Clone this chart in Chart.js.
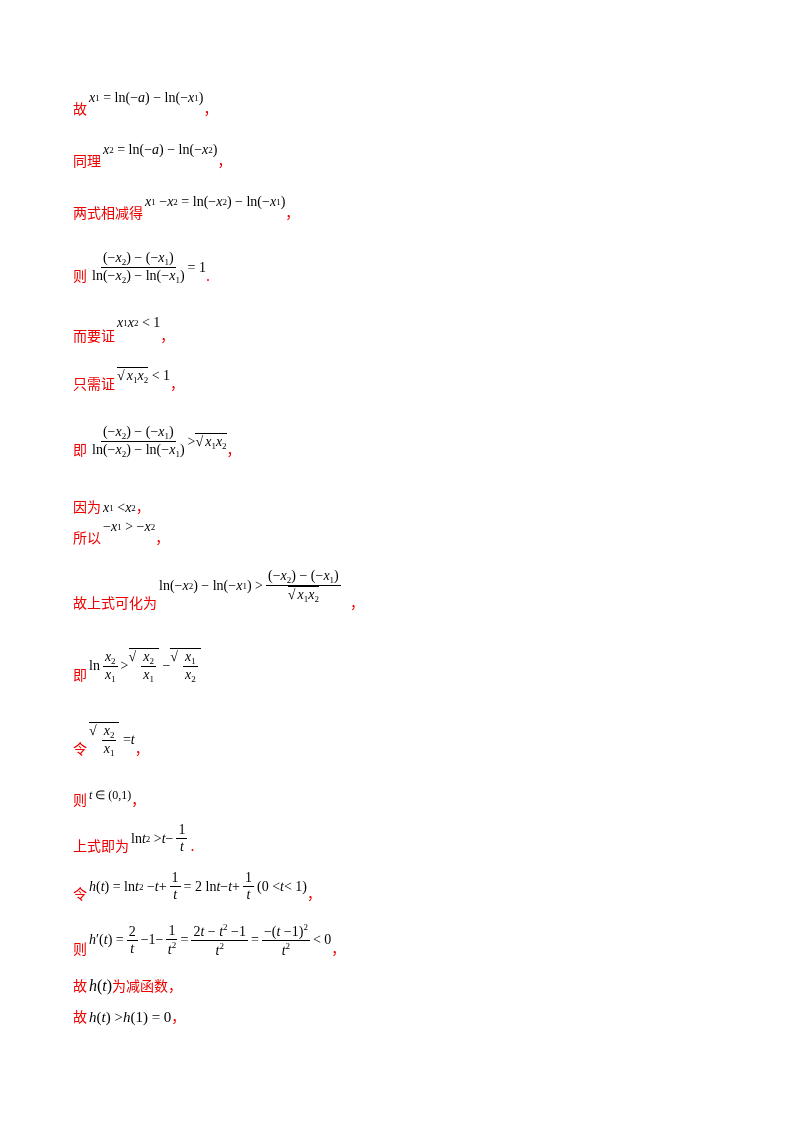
<!DOCTYPE html>
<html><head><meta charset="utf-8">
<script src="https://cdn.jsdelivr.net/npm/chart.js@4"></script>
<style>
body{margin:0;width:800px;height:1132px;background:#fff;position:relative;font-family:"Liberation Serif",serif;}
.l{position:absolute;left:73px;white-space:nowrap;display:flex;align-items:flex-end;}
.c{color:#e00;font-family:"Noto Sans CJK SC";font-size:14px;}
.m{font-size:14px;color:#000;display:inline-flex;align-items:center;margin-left:2px}
i{font-style:italic}
sub{font-size:9px;vertical-align:-3px}
.fr{display:inline-flex;flex-direction:column;align-items:center;margin:0 3px}
.fr>span:first-child{border-bottom:1px solid #000;padding:0 2px}
.sq{border-top:1px solid #000;padding-left:2px}
.sq:before{content:"√";position:relative;left:-2px}
#cv{position:absolute;left:0;top:0;width:1px;height:1px;opacity:0}
</style></head><body>
<canvas id="cv"></canvas>
<div class="l" style="top:98px"><span class="c">故</span><span class="m" style="position:relative;top:-12px"><i>x</i><sub>1</sub>&nbsp;= ln(−<i>a</i>) − ln(−<i>x</i><sub>1</sub>)</span><span class="c">，</span></div>
<div class="l" style="top:150px"><span class="c">同理</span><span class="m" style="position:relative;top:-12px"><i>x</i><sub>2</sub>&nbsp;= ln(−<i>a</i>) − ln(−<i>x</i><sub>2</sub>)</span><span class="c">，</span></div>
<div class="l" style="top:202px"><span class="c">两式相减得</span><span class="m" style="position:relative;top:-12px"><i>x</i><sub>1</sub>&nbsp;− <i>x</i><sub>2</sub>&nbsp;= ln(−<i>x</i><sub>2</sub>) − ln(−<i>x</i><sub>1</sub>)</span><span class="c">，</span></div>
<div class="l" style="top:250px"><span class="c">则</span><span class="m"><span class="fr"><span>(−<i>x</i><sub>2</sub>) − (−<i>x</i><sub>1</sub>)</span><span>ln(−<i>x</i><sub>2</sub>) − ln(−<i>x</i><sub>1</sub>)</span></span>= 1</span><span class="c">.</span></div>
<div class="l" style="top:325px"><span class="c">而要证</span><span class="m" style="position:relative;top:-14px"><i>x</i><sub>1</sub><i>x</i><sub>2</sub>&nbsp;&lt; 1</span><span class="c">，</span></div>
<div class="l" style="top:373px"><span class="c">只需证</span><span class="m" style="position:relative;top:-8px"><span class="sq"><i>x</i><sub>1</sub><i>x</i><sub>2</sub></span>&nbsp;&lt; 1</span><span class="c">，</span></div>
<div class="l" style="top:424px"><span class="c">即</span><span class="m"><span class="fr"><span>(−<i>x</i><sub>2</sub>) − (−<i>x</i><sub>1</sub>)</span><span>ln(−<i>x</i><sub>2</sub>) − ln(−<i>x</i><sub>1</sub>)</span></span>&gt; <span class="sq"><i>x</i><sub>1</sub><i>x</i><sub>2</sub></span></span><span class="c">，</span></div>
<div class="l" style="top:496px"><span class="c">因为</span><span class="m"><i>x</i><sub>1</sub>&nbsp;&lt; <i>x</i><sub>2</sub></span><span class="c">，</span></div>
<div class="l" style="top:527px"><span class="c">所以</span><span class="m" style="position:relative;top:-12px">−<i>x</i><sub>1</sub>&nbsp;&gt; −<i>x</i><sub>2</sub></span><span class="c">，</span></div>
<div class="l" style="top:576px"><span class="c">故上式可化为</span><span class="m" style="position:relative;top:-8px">ln(−<i>x</i><sub>2</sub>) − ln(−<i>x</i><sub>1</sub>) &gt;<span class="fr"><span>(−<i>x</i><sub>2</sub>) − (−<i>x</i><sub>1</sub>)</span><span class="sq"><i>x</i><sub>1</sub><i>x</i><sub>2</sub></span></span></span><span class="c">&nbsp;&nbsp;，</span></div>
<div class="l" style="top:648px"><span class="c">即</span><span class="m">ln<span class="fr"><span><i>x</i><sub>2</sub></span><span><i>x</i><sub>1</sub></span></span>&gt; <span class="sq"><span class="fr"><span><i>x</i><sub>2</sub></span><span><i>x</i><sub>1</sub></span></span></span>&nbsp;− <span class="sq"><span class="fr"><span><i>x</i><sub>1</sub></span><span><i>x</i><sub>2</sub></span></span></span></span></div>
<div class="l" style="top:722px"><span class="c">令</span><span class="m"><span class="sq"><span class="fr"><span><i>x</i><sub>2</sub></span><span><i>x</i><sub>1</sub></span></span></span>&nbsp;= <i>t</i></span><span class="c">，</span></div>
<div class="l" style="top:789px"><span class="c">则</span><span class="m" style="font-size:12px;position:relative;top:-6px"><i>t</i>&nbsp;∈ (0,1)</span><span class="c">，</span></div>
<div class="l" style="top:822px"><span class="c">上式即为</span><span class="m">ln <i>t</i><sup style="font-size:9px">2</sup>&nbsp;&gt; <i>t</i> −<span class="fr"><span>1</span><span><i>t</i></span></span></span><span class="c">.</span></div>
<div class="l" style="top:870px"><span class="c">令</span><span class="m"><i>h</i>(<i>t</i>) = ln <i>t</i><sup style="font-size:9px">2</sup>&nbsp;− <i>t</i> +<span class="fr"><span>1</span><span><i>t</i></span></span>= 2 ln <i>t</i> − <i>t</i> +<span class="fr"><span>1</span><span><i>t</i></span></span>(0 &lt; <i>t</i> &lt; 1)</span><span class="c">，</span></div>
<div class="l" style="top:922px"><span class="c">则</span><span class="m"><i>h</i>′(<i>t</i>) =<span class="fr"><span>2</span><span><i>t</i></span></span>−1−<span class="fr"><span>1</span><span><i>t</i><sup style="font-size:9px">2</sup></span></span>=<span class="fr"><span>2<i>t</i> − <i>t</i><sup style="font-size:9px">2</sup> −1</span><span><i>t</i><sup style="font-size:9px">2</sup></span></span>=<span class="fr"><span>−(<i>t</i> −1)<sup style="font-size:9px">2</sup></span><span><i>t</i><sup style="font-size:9px">2</sup></span></span>&lt; 0</span><span class="c">，</span></div>
<div class="l" style="top:975px"><span class="c">故</span><span class="m" style="font-size:16px"><i>h</i>(<i>t</i>)</span><span class="c">为减函数，</span></div>
<div class="l" style="top:1006px"><span class="c">故</span><span class="m" style="font-size:15px"><i>h</i>(<i>t</i>) &gt; <i>h</i>(1) = 0</span><span class="c">，</span></div>
<script>
const categories=[];const values=[];
new Chart(document.getElementById('cv'),{type:'bar',data:{labels:categories,datasets:[{data:values}]},options:{animation:false,plugins:{legend:{display:false}},scales:{x:{display:false},y:{display:false}}}});
</script>
</body></html>
